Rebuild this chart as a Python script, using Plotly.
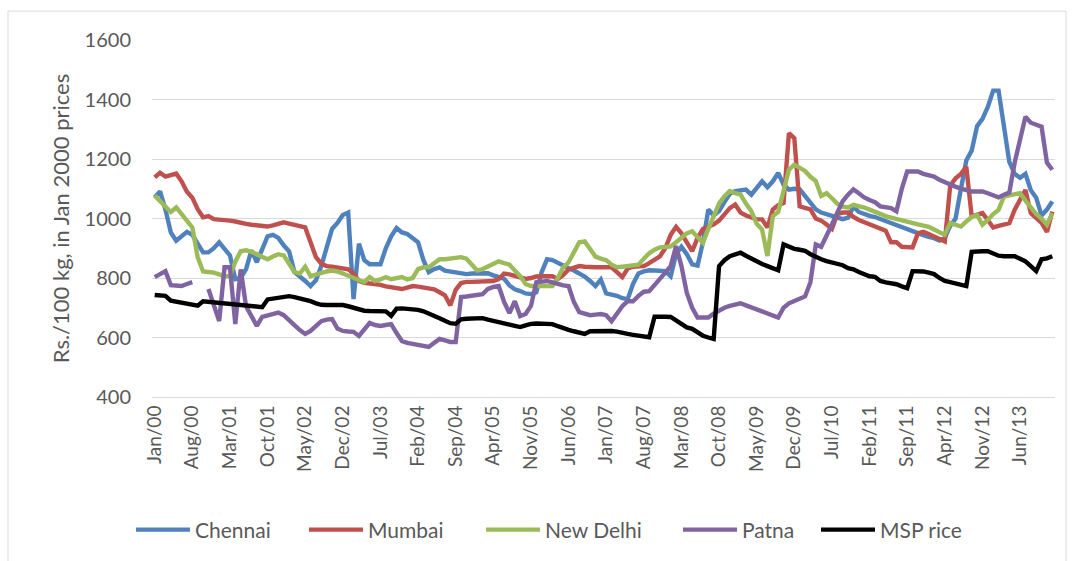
import plotly.graph_objects as go

# Monthly real rice prices, Jan 2000 - Dec 2013 (Rs./100 kg, Jan 2000 prices)
MONTH_NAMES = ["Jan", "Feb", "Mar", "Apr", "May", "Jun",
               "Jul", "Aug", "Sep", "Oct", "Nov", "Dec"]
months = [f"{m}/{y:02d}" for y in range(0, 14) for m in MONTH_NAMES]

chennai = [
    1071, 1091, 1030, 953, 925, 940, 955, 945, 915, 886,
    886, 900, 920, 895, 876, 796, 800, 830, 893, 853,
    895, 940, 945, 935, 910, 890, 820, 806, 790, 773,
    792, 840, 900, 965, 985, 1012, 1020, 729, 915, 860,
    846, 846, 846, 900, 940, 968, 953, 948, 935, 920,
    860, 820, 830, 836, 825, 822, 820, 816, 813, 815,
    816, 816, 816, 809, 803, 798, 775, 762, 756, 748,
    746, 752, 820, 863, 860, 850, 840, 833, 825, 815,
    805, 790, 773, 795, 748, 744, 740, 732, 729, 780,
    815, 822, 826, 825, 824, 823, 806, 880, 905, 880,
    846, 842, 920, 1030, 1010, 1025, 1055, 1083, 1092, 1095,
    1097, 1080, 1100, 1125, 1105, 1125, 1153, 1114, 1097, 1100,
    1098, 1076, 1055, 1031, 1020, 1015, 1009, 1003, 998, 1003,
    1040, 1022, 1015, 1009, 1005, 998, 992, 987, 978, 970,
    962, 955, 950, 944, 938, 934, 926, 935, 975, 1000,
    1100, 1195, 1228, 1310, 1335, 1375, 1430, 1430, 1310, 1190,
    1150, 1137, 1150, 1095, 1070, 1010, 1030, 1057,
]

mumbai = [
    1138, 1154, 1141, 1145, 1151, 1125, 1090, 1070, 1031, 1004,
    1008, 998, 997, 997, 993, 990, 985, 982, 979, 977,
    975, 973, 977, 982, 987, 983, 978, 975, 970, 920,
    870, 848, 840, 838, 836, 833, 829, 815, 790, 784,
    782, 780, 777, 772, 769, 766, 763, 768, 773, 771,
    769, 766, 762, 752, 742, 708, 760, 783, 787, 787,
    787, 787, 787, 790, 796, 815, 812, 806, 801, 797,
    800, 805, 806, 806, 806, 797, 810, 829, 836, 840,
    838, 836, 836, 836, 836, 836, 820, 803, 832, 838,
    839, 840, 850, 862, 873, 900, 945, 972, 950, 920,
    890, 935, 965, 972, 980, 993, 1015, 1035, 1047, 1020,
    1010, 1004, 997, 997, 970, 1030, 1045, 1052, 1287, 1270,
    1041, 1036, 1031, 1000, 993, 980, 965, 1015, 1020, 1020,
    1005, 995, 988, 982, 975, 968, 959, 920, 920, 905,
    903, 903, 950, 955, 948, 940, 932, 923, 1110, 1135,
    1150, 1174, 1007, 1012, 1018, 995, 970, 975, 980, 984,
    1030, 1060, 1096, 1018, 1000, 985, 955, 1023,
]

new_delhi = [
    1077, 1058, 1040, 1022, 1037, 1015, 990, 970, 870, 822,
    820, 818, 812, 806, 806, 855, 890, 893, 888, 880,
    872, 863, 872, 880, 876, 850, 820, 815, 838, 806,
    812, 819, 822, 825, 822, 815, 808, 800, 793, 786,
    803, 790, 795, 803, 796, 800, 803, 795, 800, 830,
    836, 836, 850, 863, 863, 866, 870, 870, 865, 845,
    825, 830, 840, 850, 856, 850, 845, 825, 806, 780,
    773, 773, 773, 773, 773, 800, 836, 853, 890, 920,
    923, 900, 872, 865, 860, 845, 836, 838, 840, 842,
    845, 865, 883, 895, 903, 904, 906, 920, 935, 950,
    957, 940, 918, 965, 1010, 1050, 1075, 1092, 1085, 1080,
    1050, 1025, 982, 963, 874, 1008, 1022, 1100, 1164, 1181,
    1172, 1160, 1140, 1126, 1076, 1085, 1068, 1050, 1040, 1037,
    1046, 1042, 1037, 1030, 1022, 1015, 1008, 1003, 998, 992,
    987, 984, 980, 976, 972, 963, 952, 945, 985, 980,
    973, 990, 1005, 1012, 979, 995, 1015, 1029, 1074, 1078,
    1082, 1085, 1060, 1035, 1015, 1000, 979, 1018,
]

patna = [
    803, 812, 823, 776, 775, 773, 780, 786, None, None,
    763, 710, 655, 836, 836, 645, 829, 705, 670, 639,
    669, 674, 679, 684, 675, 660, 642, 625, 612, 622,
    640, 655, 660, 662, 630, 622, 620, 619, 605, 630,
    649, 642, 639, 642, 645, 615, 588, 582, 578, 574,
    571, 568, 582, 595, 590, 585, 585, 736, 738, 740,
    743, 746, 763, 770, 773, 720, 682, 722, 672, 679,
    706, 786, 788, 790, 785, 779, 775, 773, 719, 685,
    680, 675, 677, 679, 675, 655, 680, 705, 722, 722,
    740, 754, 756, 775, 796, 818, 840, 907, 840, 750,
    700, 667, 667, 667, 680, 692, 700, 706, 712, 715,
    708, 701, 694, 686, 680, 673, 667, 700, 715, 723,
    732, 738, 786, 913, 905, 940, 980, 1020, 1058, 1080,
    1098, 1085, 1071, 1062, 1055, 1041, 1038, 1035, 1024, 1100,
    1158, 1158, 1158, 1150, 1145, 1141, 1130, 1121, 1113, 1107,
    1100, 1095, 1091, 1091, 1091, 1085, 1078, 1071, 1080, 1087,
    1188, 1265, 1342, 1322, 1315, 1309, 1188, 1164,
]

msp_rice = [
    743, 742, 740, 724, 720, 717, 714, 711, 707, 722,
    720, 719, 718, 717, 715, 713, 711, 709, 707, 705,
    702, 728, 731, 734, 737, 739, 736, 732, 729, 722,
    715, 710, 709, 709, 709, 709, 705, 700, 695, 690,
    689, 689, 689, 688, 673, 697, 698, 697, 696, 693,
    688, 681, 673, 665, 656, 648, 646, 661, 663, 664,
    664, 665, 660, 655, 651, 647, 643, 639, 635, 641,
    646, 647, 647, 648, 645, 638, 631, 626, 621, 616,
    612, 621, 622, 622, 622, 622, 620, 615, 612, 609,
    606, 603, 601, 670, 671, 670, 669, 658, 643, 634,
    629, 618, 606, 600, 595, 840, 860, 873, 880, 885,
    875, 865, 853, 847, 840, 833, 826, 913, 904, 898,
    895, 891, 880, 870, 863, 857, 853, 848, 843, 833,
    829, 820, 812, 806, 804, 790, 785, 782, 779, 772,
    766, 823, 823, 822, 818, 813, 800, 790, 786, 782,
    778, 773, 888, 890, 890, 890, 882, 875, 873, 873,
    873, 865, 856, 840, 823, 863, 866, 873,
]

series = [
    ("Chennai", chennai, "#4F81BD"),
    ("Mumbai", mumbai, "#C0504D"),
    ("New Delhi", new_delhi, "#9BBB59"),
    ("Patna", patna, "#8064A2"),
    ("MSP rice", msp_rice, "#000000"),
]

for name, vals, _ in series:
    assert len(vals) == len(months), (name, len(vals))

tick_labels = months[::7]
n = len(months)
boundaries = [i - 0.5 for i in range(0, n + 1, 7)]

GRID = "#d9d9d9"
TEXT = "#595959"
FONT = "Lato"

# plot area in pixels (left, right, top, bottom)
PL, PR, PT, PB = 152, 1055, 40, 398
W, H = 1072, 561


def px_x(x):
    return (x - PL) / (PR - PL)


def px_y(y):
    return (PB - y) / (PB - PT)


# one legend per series so each entry sits at its own spot along the bottom row
legend_left = [139, 312, 489, 686, 824]
legend_names = ["legend", "legend2", "legend3", "legend4", "legend5"]

fig = go.Figure()
for (name, vals, color), lg in zip(series, legend_names):
    fig.add_trace(go.Scatter(
        x=months, y=vals, name=name, mode="lines",
        line=dict(color=color, width=4.4, shape="linear"),
        connectgaps=False, legend=lg,
    ))

legend_layout = {}
for lg, left in zip(legend_names, legend_left):
    legend_layout[lg] = dict(
        orientation="h", x=px_x(left - 8), xanchor="left",
        y=px_y(530), yanchor="middle",
        font=dict(family=FONT, size=21, color=TEXT), itemwidth=54,
        bgcolor="rgba(0,0,0,0)", borderwidth=0,
    )

fig.update_layout(
    width=W, height=H,
    margin=dict(l=PL, r=W - PR, t=PT, b=H - PB),
    paper_bgcolor="white", plot_bgcolor="white",
    font=dict(family=FONT, color=TEXT),
    showlegend=True,
    xaxis=dict(
        type="category", categoryorder="array", categoryarray=months,
        range=[-0.5, n - 0.5],
        tickmode="array", tickvals=tick_labels, ticktext=tick_labels,
        tickangle=-90, tickfont=dict(family=FONT, size=19, color=TEXT),
        ticks="", showgrid=False, zeroline=False,
        showline=True, linecolor=GRID, linewidth=1,
    ),
    xaxis2=dict(
        overlaying="x", anchor="y", side="bottom", type="linear",
        range=[-0.5, n - 0.5], tickmode="array", tickvals=boundaries,
        ticks="outside", ticklen=6, tickcolor=GRID, tickwidth=1,
        showticklabels=False, showgrid=False, zeroline=False, showline=False,
    ),
    yaxis=dict(
        range=[400, 1600], tickmode="linear", tick0=400, dtick=200,
        showgrid=True, gridcolor=GRID, gridwidth=1, zeroline=False,
        showline=False, ticks="",
        tickfont=dict(family=FONT, size=20, color=TEXT),
        ticklabelstandoff=20,
        title=dict(text="Rs./100 kg, in Jan 2000 prices",
                   font=dict(family=FONT, size=22, color=TEXT), standoff=8),
    ),
    shapes=[dict(
        type="rect", xref="paper", yref="paper",
        x0=px_x(8), x1=px_x(1066), y0=px_y(575), y1=px_y(11),
        line=dict(color=GRID, width=1), fillcolor="rgba(0,0,0,0)", layer="below",
    )],
    **legend_layout,
)

fig.write_html("out.html")
